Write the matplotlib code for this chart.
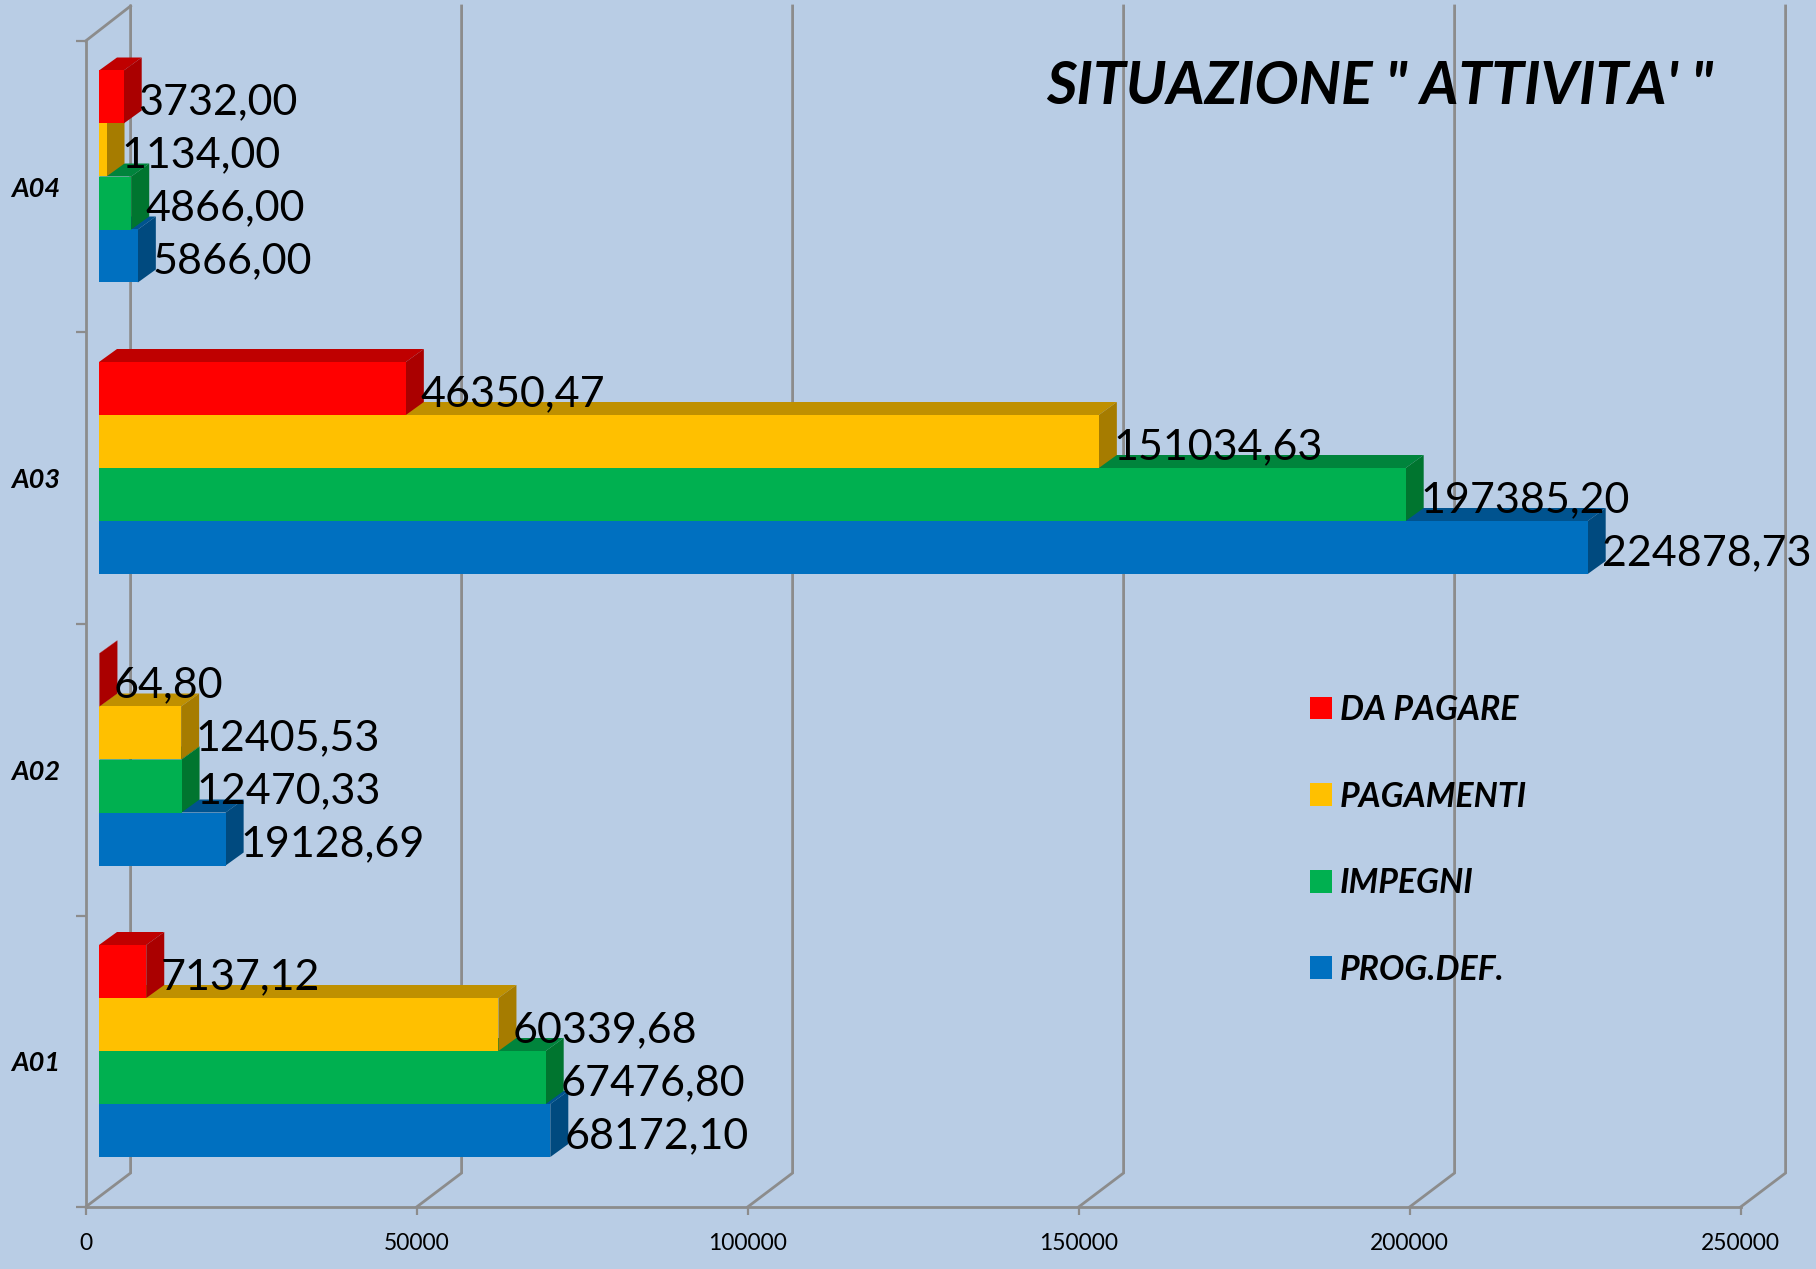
import matplotlib
matplotlib.use("Agg")
import matplotlib.pyplot as plt
import numpy as np
from matplotlib.patches import Patch, Polygon

plt.rcParams["font.family"] = ["Lato", "DejaVu Sans"]

CATEGORIES = ["A01", "A02", "A03", "A04"]
SERIES = ["PROG.DEF.", "IMPEGNI", "PAGAMENTI", "DA PAGARE"]
PROG_DEF = [68172.10, 19128.69, 224878.73, 5866.00]
IMPEGNI = [67476.80, 12470.33, 197385.20, 4866.00]
PAGAMENTI = [60339.68, 12405.53, 151034.63, 1134.00]
DA_PAGARE = [7137.12, 64.80, 46350.47, 3732.00]
X_TICKS = [0, 50000, 100000, 150000, 200000, 250000]
TITLE = "SITUAZIONE \" ATTIVITA' \""

FRONT = ["#0070C0", "#00B050", "#FFC000", "#FF0000"]
SIDE = ["#004A7F", "#00752F", "#A67C00", "#AA0000"]
TOP = ["#00538F", "#00843C", "#BF9000", "#BF0000"]
BG = "#B9CDE5"
GRID = "#8C8C8C"

# pixel geometry of the picture, turned into data units below
W, H = 1816, 1269
X0_PX, Y0_PX = 85.6, 1207
PX_PER_X = 331 / 50000
PX_PER_CAT = 291.5
px = lambda n: n / PX_PER_X
py = lambda n: n / PX_PER_CAT

fig = plt.figure(figsize=(W / 100, H / 100), dpi=100, facecolor=BG)
ax = fig.add_axes([0, 0, 1, 1], facecolor=BG)
ax.set_xlim(px(-X0_PX), px(W - X0_PX))
ax.set_ylim(py(Y0_PX - H), py(Y0_PX))

# walls
for t in X_TICKS:
    ax.plot([t, t + px(45), t + px(45)], [0, py(34), 4 + py(35)],
            color=GRID, lw=2.0, zorder=1, solid_joinstyle="miter")
ax.plot([0, px(45)], [4, 4 + py(35)], color=GRID, lw=2.0, zorder=1)

for s in ["top", "right"]:
    ax.spines[s].set_visible(False)
for s in ["left", "bottom"]:
    ax.spines[s].set_position(("data", 0))
    ax.spines[s].set_color(GRID)
    ax.spines[s].set_linewidth(2.0)
ax.spines["left"].set_bounds(0, 4)
ax.spines["bottom"].set_bounds(0, 250000)

ax.set_xticks(X_TICKS)
ax.set_xticklabels([str(t) for t in X_TICKS], fontsize=16.5)
ax.tick_params(axis="x", length=6, width=1.6, color=GRID, pad=13)
ax.set_yticks(np.arange(5), minor=True)
ax.set_yticks(np.arange(4) + 0.5)
ax.set_yticklabels(CATEGORIES, fontsize=19.5, fontweight="bold", fontstyle="italic")
ax.tick_params(axis="y", which="major", length=0, pad=18)
ax.tick_params(axis="y", which="minor", length=7, width=1.6, color=GRID)

# bars: blue first, the ones above cover their neighbours' depth faces
bar_x0 = px(13.4)
bar_h = py(53)
bar_base = py(50)
dx, dy = px(18), py(13)
for j, vals in enumerate([PROG_DEF, IMPEGNI, PAGAMENTI, DA_PAGARE]):
    z = 5 + j
    for i, v in enumerate(vals):
        y = i + bar_base + j * bar_h
        x1 = bar_x0 + v
        ax.barh(y, v, left=bar_x0, height=bar_h, align="edge", color=FRONT[j], zorder=z + 0.2)
        ax.add_patch(Polygon([(bar_x0, y + bar_h), (x1, y + bar_h), (x1 + dx, y + bar_h + dy),
                              (bar_x0 + dx, y + bar_h + dy)], color=TOP[j], lw=0, zorder=z))
        ax.add_patch(Polygon([(x1, y), (x1 + dx, y + dy), (x1 + dx, y + bar_h + dy),
                              (x1, y + bar_h)], color=SIDE[j], lw=0, zorder=z + 0.1))
        ax.text(x1 + dx - px(3.5), y + bar_h / 2 - py(2), f"{v:.2f}".replace(".", ","),
                ha="left", va="center_baseline", fontsize=31, color="black", zorder=20)

ax.text(px(1380 - X0_PX), py(Y0_PX - 87), TITLE, ha="center", va="center",
        fontsize=42.4, fontweight="bold", fontstyle="italic", color="black", zorder=20)

handles = [Patch(color=FRONT[j], lw=0) for j in [3, 2, 1, 0]]
ax.legend(handles, [SERIES[j] for j in [3, 2, 1, 0]], loc="upper left",
          bbox_to_anchor=(1310 / W, 1 - 694 / H), frameon=False,
          prop={"size": 24.4, "weight": "bold", "style": "italic"},
          handlelength=0.65, handleheight=0.65, handletextpad=0.24,
          labelspacing=1.61, borderpad=0, borderaxespad=0)

fig.savefig("out.png", dpi=100, facecolor=BG)
plt.close(fig)
